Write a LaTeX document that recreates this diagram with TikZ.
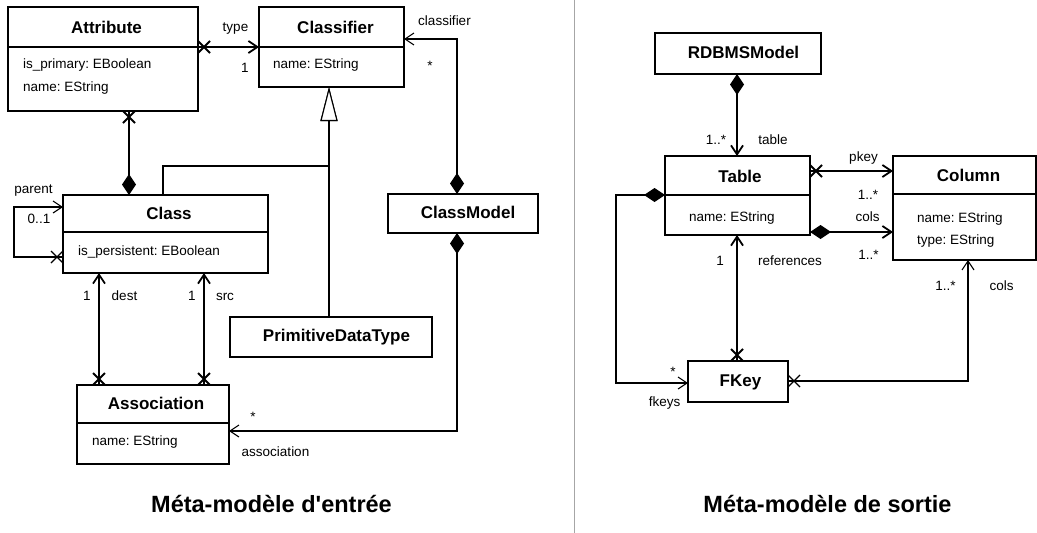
\documentclass[tikz,border=0pt]{standalone}
\usepackage{fontspec}
\setmainfont{Liberation Sans}
\usetikzlibrary{arrows.meta,shadows}
\frenchspacing

\pgfdeclarearrow{
  name = Xc,
  setup code = {
    \pgfarrowssettipend{0pt}
    \pgfarrowssetlineend{0pt}
    \pgfarrowssetbackend{-12pt}
    \pgfarrowssetvisualbackend{-12pt}
  },
  drawing code = {
    \pgfsetdash{}{0pt}
    \pgfpathmoveto{\pgfqpoint{0pt}{6pt}}
    \pgfpathlineto{\pgfqpoint{-12pt}{-6pt}}
    \pgfpathmoveto{\pgfqpoint{0pt}{-6pt}}
    \pgfpathlineto{\pgfqpoint{-12pt}{6pt}}
    \pgfusepathqstroke
  }
}

\tikzset{
  box/.style={draw, line width=1.5pt, fill=white, outer sep=0pt, inner sep=0pt,
    drop shadow={shadow xshift=1.3pt, shadow yshift=-1.3pt, fill=black!40}},
  divline/.style={line width=1.5pt},
  cname/.style={font=\fontsize{17}{20}\selectfont\bfseries, anchor=base, inner sep=0pt},
  attrtext/.style={font=\fontsize{13.5}{16}\selectfont, anchor=base west, inner sep=0pt},
  lbl/.style={font=\fontsize{13.5}{16}\selectfont, anchor=base, inner sep=0pt},
  ttl/.style={font=\fontsize{23.5}{28}\selectfont\bfseries, anchor=base, inner sep=0pt},
  thk/.style={line width=1.8pt},
  thn/.style={line width=1.1pt},
  OA/.tip={Straight Barb[length=9pt,width=12pt]},
  CD/.tip={Diamond[length=21pt,width=14pt]},
  GT/.tip={Triangle[open,length=34pt,width=17pt,fill=white,line width=1.1pt]},
}

\begin{document}
\begin{tikzpicture}[x=1pt,y=-1pt]
\useasboundingbox (0,0) rectangle (1037,533);

% separator
\draw[gray!70, line width=1pt] (574,0) -- (574,533);

% ---------- left: boxes ----------
\node[box, minimum width=190pt, minimum height=104pt] (attr) at (103,59) {};
\draw[divline] (attr.west |- 0,47) -- (attr.east |- 0,47);
\node[cname] (attrT) at (106.5,33) {Attribute};
\node[attrtext] (attrA1) at (23,68) {is\_primary: EBoolean};
\node[attrtext] (attrA2) at (23,91) {name: EString};

\node[box, minimum width=145pt, minimum height=80pt] (clsf) at (331.5,47) {};
\draw[divline] (clsf.west |- 0,47) -- (clsf.east |- 0,47);
\node[cname] (clsfT) at (335.5,33) {Classifier};
\node[attrtext] (clsfA1) at (273,68) {name: EString};

\node[box, minimum width=205pt, minimum height=78pt] (cls) at (165.5,234) {};
\draw[divline] (cls.west |- 0,232) -- (cls.east |- 0,232);
\node[cname] (clsT) at (169,219) {Class};
\node[attrtext] (clsA1) at (78,255) {is\_persistent: EBoolean};

\node[box, minimum width=150pt, minimum height=39pt] (cmodel) at (463,213.5) {};
\node[cname] (cmodelT) at (468,218) {ClassModel};

\node[box, minimum width=202pt, minimum height=40pt] (pdt) at (331,337) {};
\node[cname] (pdtT) at (336.5,341) {PrimitiveDataType};

\node[box, minimum width=152pt, minimum height=79pt] (assoc) at (153,424.5) {};
\draw[divline] (assoc.west |- 0,423) -- (assoc.east |- 0,423);
\node[cname] (assocT) at (156,409) {Association};
\node[attrtext] (assocA1) at (92,445) {name: EString};

% ---------- right: boxes ----------
\node[box, minimum width=166pt, minimum height=41pt] (rdbms) at (738,53.5) {};
\node[cname] (rdbmsT) at (743.5,58) {RDBMSModel};

\node[box, minimum width=145pt, minimum height=79pt] (table) at (737.5,195.5) {};
\draw[divline] (table.west |- 0,195) -- (table.east |- 0,195);
\node[cname] (tableT) at (740,182) {Table};
\node[attrtext] (tableA1) at (689,221) {name: EString};

\node[box, minimum width=143pt, minimum height=104pt] (column) at (964.5,208) {};
\draw[divline] (column.west |- 0,194) -- (column.east |- 0,194);
\node[cname] (columnT) at (968.5,181) {Column};
\node[attrtext] (columnA1) at (917,222) {name: EString};
\node[attrtext] (columnA2) at (917,244) {type: EString};

\node[box, minimum width=100pt, minimum height=41pt] (fkey) at (738,381.5) {};
\node[cname] (fkeyT) at (740.5,386) {FKey};

% ---------- left: connectors ----------
\draw[thk, Xc-OA] (attr.east |- 0,47) -- (clsf.west |- 0,47);
\node[lbl] (lType) at (235.5,31) {type};
\node[lbl] (lType1) at (245,72) {1};

\draw[thn, CD-OA] (457,0 |- cmodel.north) |- (clsf.east |- 0,39);
\node[lbl] (lClsf) at (444.5,25) {classifier};
\node[lbl] (lClsfS) at (430,70) {*};

\draw[thn, -GT] (163,0 |- cls.north) |- (329,166) -- (329,0 |- clsf.south);
\draw[thk, -GT] (329,0 |- pdt.north) -- (329,0 |- clsf.south);

\draw[thk, CD-Xc] (129,0 |- cls.north) -- (129,0 |- attr.south);

\draw[thn, Xc-OA] (cls.west |- 0,257) -- (14,257) -- (14,207) -- (cls.west |- 0,207);
\node[lbl] (lParent) at (33.5,193) {parent};
\node[lbl] (lParentM) at (39,223) {0..1};

\draw[thk, Xc-OA] (99,0 |- assoc.north) -- (99,0 |- cls.south);
\node[lbl] (lDest1) at (87,300) {1};
\node[lbl] (lDest) at (124.5,300) {dest};

\draw[thk, Xc-OA] (204,0 |- assoc.north) -- (204,0 |- cls.south);
\node[lbl] (lSrc1) at (192,300) {1};
\node[lbl] (lSrc) at (225,300) {src};

\draw[thn, CD-OA] (457,0 |- cmodel.south) |- (assoc.east |- 0,431);
\node[lbl] (lAssocS) at (253,421) {*};
\node[lbl] (lAssoc) at (275.5,456) {association};

% ---------- right: connectors ----------
\draw[thk, CD-OA] (737,0 |- rdbms.south) -- (737,0 |- table.north);
\node[lbl] (lTableM) at (716,144) {1..*};
\node[lbl] (lTable) at (773,144) {table};

\draw[thk, Xc-OA] (table.east |- 0,171) -- (column.west |- 0,171);
\node[lbl] (lPkey) at (863.5,161) {pkey};
\node[lbl] (lPkeyM) at (868,199) {1..*};

\draw[thk, CD-OA] (table.east |- 0,232) -- (column.west |- 0,232);
\node[lbl] (lCols) at (867.5,221) {cols};
\node[lbl] (lColsM) at (868.5,259) {1..*};

\draw[thn, CD-OA] (table.west |- 0,195) -- (616,195) -- (616,383) -- (fkey.west |- 0,383);
\node[lbl] (lFkeysS) at (673,376) {*};
\node[lbl] (lFkeys) at (664.5,406) {fkeys};

\draw[thk, Xc-OA] (737,0 |- fkey.north) -- (737,0 |- table.south);
\node[lbl] (lRef1) at (720,265) {1};
\node[lbl] (lRef) at (790,265) {references};

\draw[thn, Xc-OA] (fkey.east |- 0,381) -| (968,0 |- column.south);
\node[lbl] (lCols2M) at (945.5,290) {1..*};
\node[lbl] (lCols2) at (1001.5,290) {cols};

% ---------- titles ----------
\node[ttl] (title1) at (271.5,512) {Méta-modèle d\textquotesingle entrée};
\node[ttl] (title2) at (827.5,512) {Méta-modèle de sortie};
\end{tikzpicture}
\end{document}
